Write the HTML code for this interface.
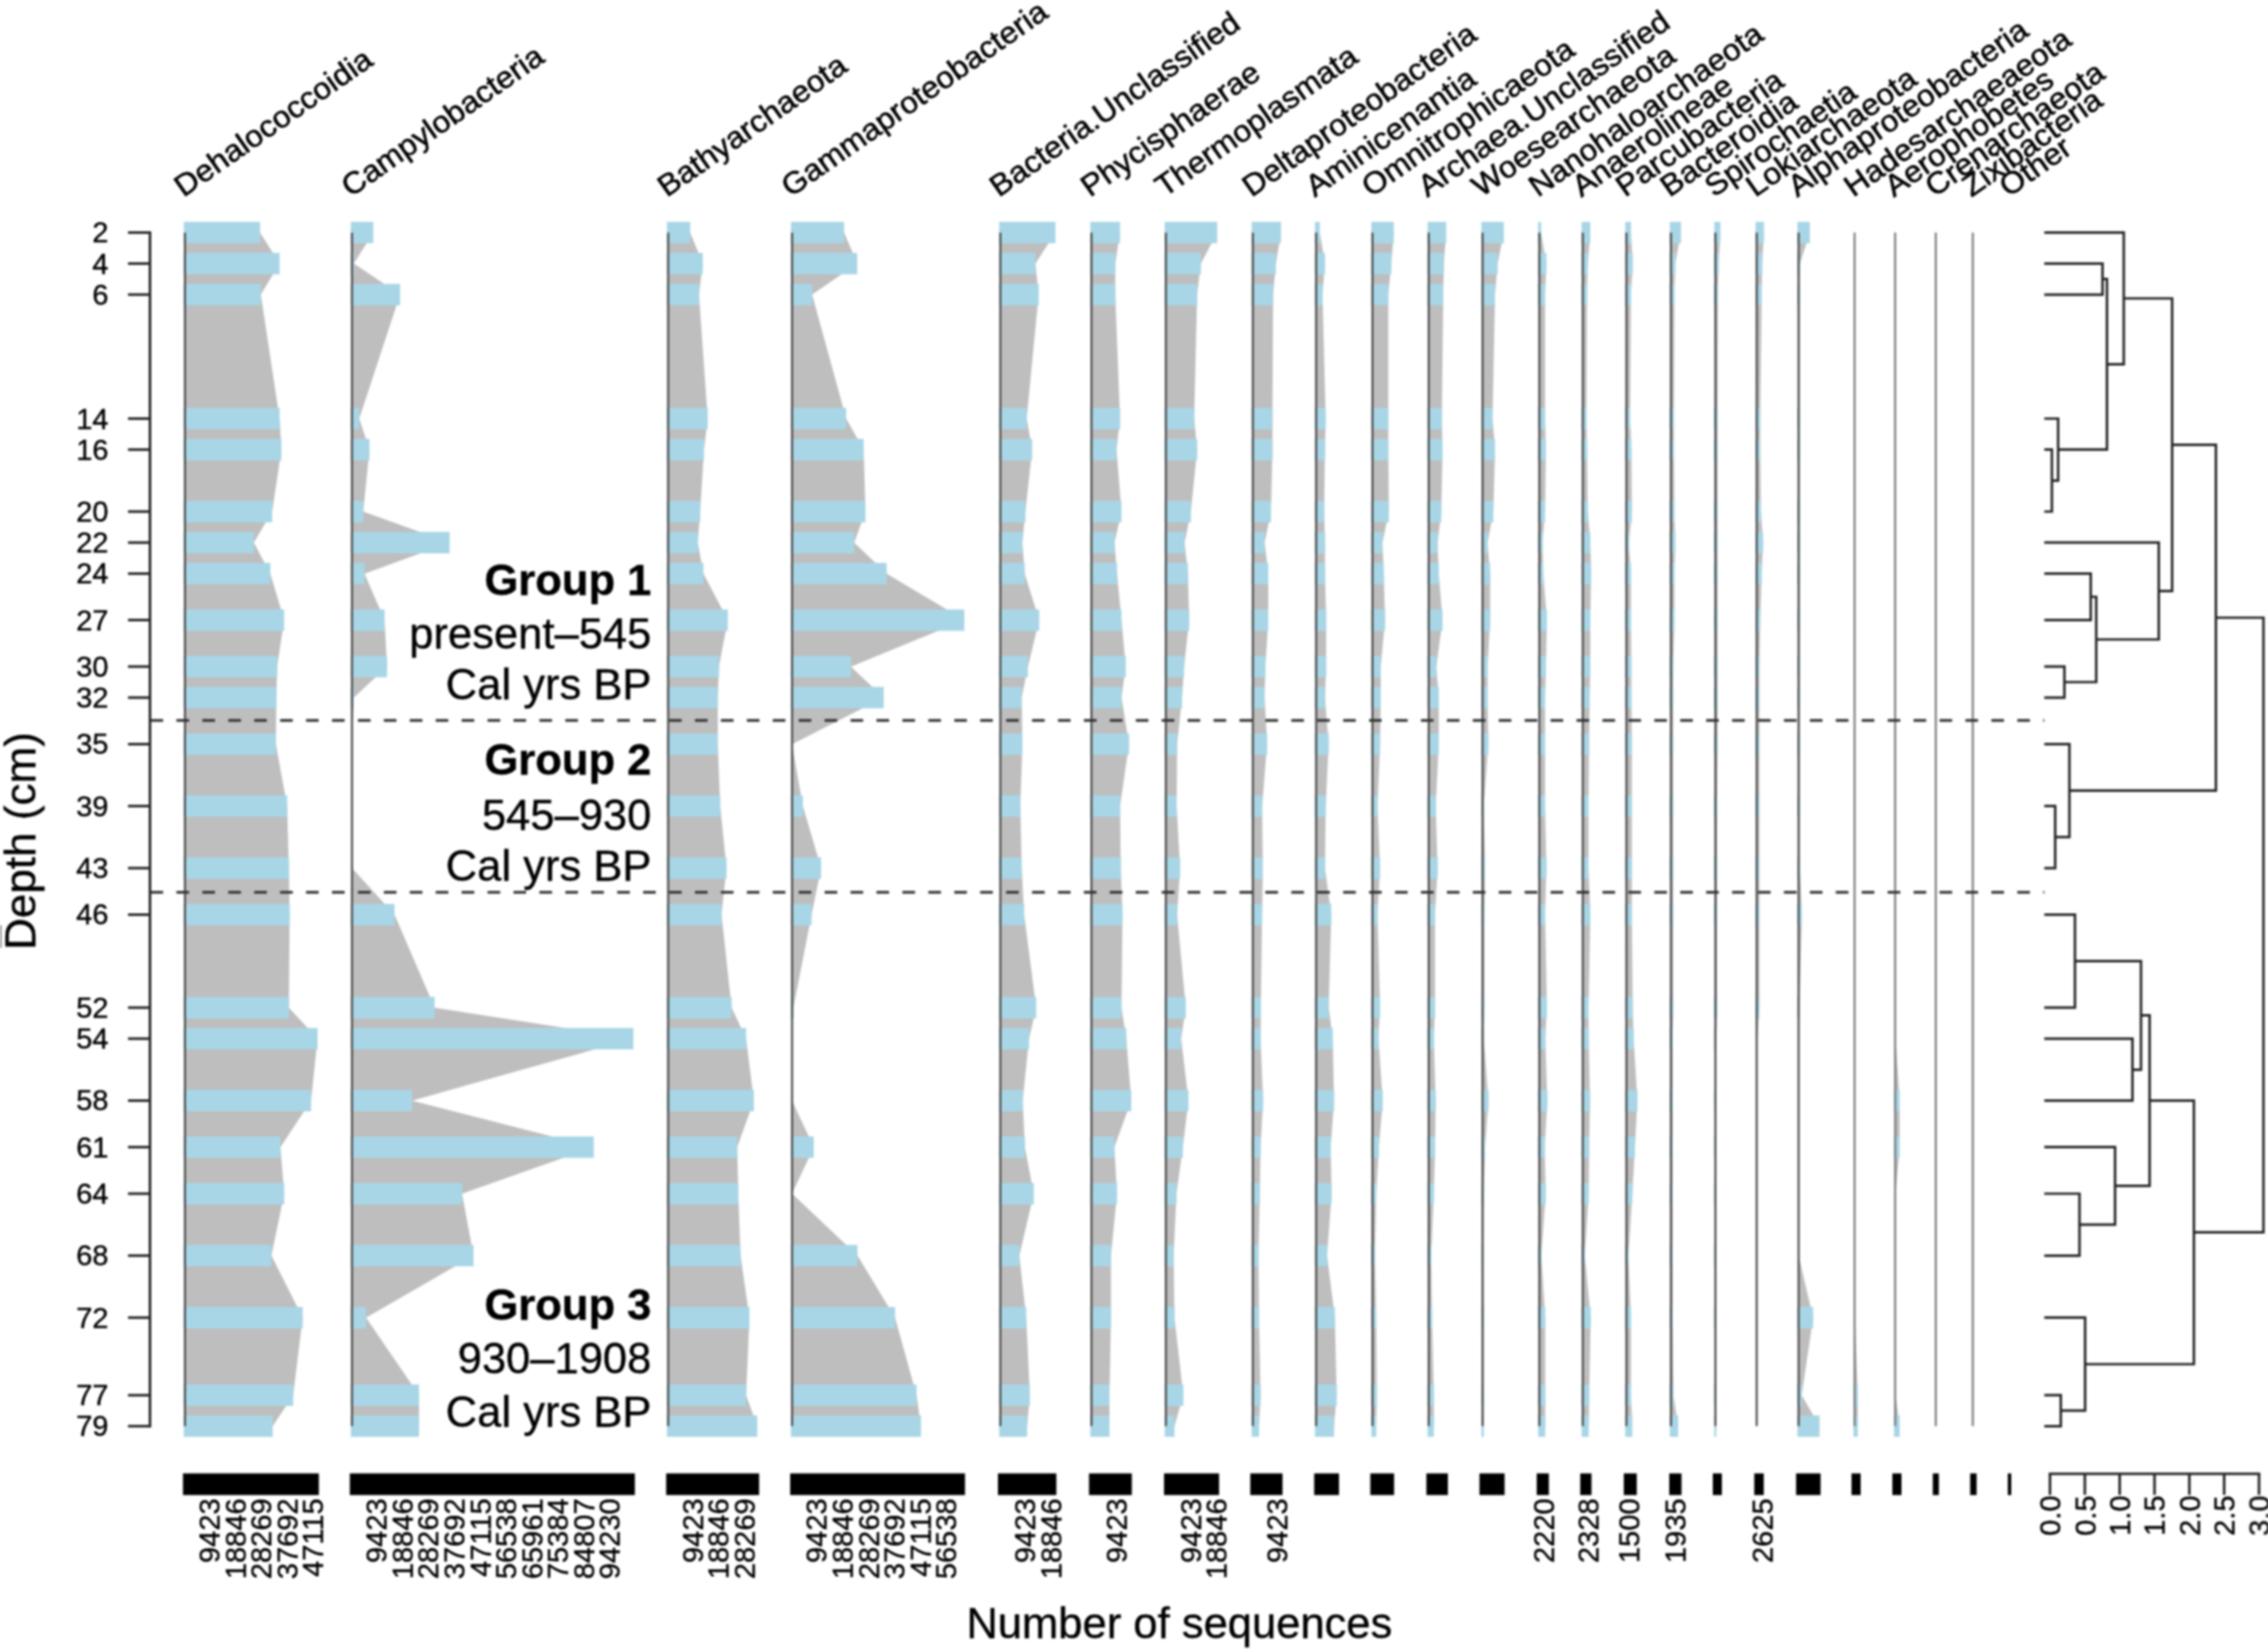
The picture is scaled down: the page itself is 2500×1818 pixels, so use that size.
<!DOCTYPE html>
<html lang="en"><head><meta charset="utf-8"><title>Stratigraphic diagram</title>
<style>html,body{margin:0;padding:0;background:#fff}body{width:2500px;height:1818px;overflow:hidden}svg{display:block}</style>
</head><body>
<svg width="2500" height="1818" viewBox="0 0 2500 1818" font-family='"Liberation Sans", sans-serif'>
<rect width="2500" height="1818" fill="#ffffff"/>
<defs><filter id="soft" x="0" y="0" width="100%" height="100%" filterUnits="objectBoundingBox" color-interpolation-filters="sRGB"><feGaussianBlur stdDeviation="1.0"/></filter></defs>
<g filter="url(#soft)">
<rect width="2500" height="1818" fill="#ffffff"/>
<g><polygon fill="#bebebe" points="203.9,256.4 286.7,256.4 308.2,290.6 287.5,324.8 308.2,461.5 310.2,495.7 300.0,564.0 279.8,598.2 298.0,632.4 313.2,683.6 305.5,734.9 304.6,769.1 304.1,820.4 316.5,888.7 318.4,957.1 319.3,1008.4 318.4,1110.9 350.0,1145.1 342.9,1213.4 309.1,1264.7 313.3,1316.0 299.2,1384.3 333.6,1452.7 323.2,1538.2 300.6,1572.3 203.9,1572.3"/><rect x="202.6" y="244.6" width="84.1" height="23.6" fill="#a8d6e6"/><rect x="202.6" y="278.8" width="105.6" height="23.6" fill="#a8d6e6"/><rect x="202.6" y="313.0" width="84.9" height="23.6" fill="#a8d6e6"/><rect x="202.6" y="449.7" width="105.6" height="23.6" fill="#a8d6e6"/><rect x="202.6" y="483.9" width="107.6" height="23.6" fill="#a8d6e6"/><rect x="202.6" y="552.2" width="97.4" height="23.6" fill="#a8d6e6"/><rect x="202.6" y="586.4" width="77.2" height="23.6" fill="#a8d6e6"/><rect x="202.6" y="620.6" width="95.4" height="23.6" fill="#a8d6e6"/><rect x="202.6" y="671.9" width="110.6" height="23.6" fill="#a8d6e6"/><rect x="202.6" y="723.1" width="102.9" height="23.6" fill="#a8d6e6"/><rect x="202.6" y="757.3" width="102.0" height="23.6" fill="#a8d6e6"/><rect x="202.6" y="808.6" width="101.5" height="23.6" fill="#a8d6e6"/><rect x="202.6" y="876.9" width="113.9" height="23.6" fill="#a8d6e6"/><rect x="202.6" y="945.3" width="115.8" height="23.6" fill="#a8d6e6"/><rect x="202.6" y="996.6" width="116.7" height="23.6" fill="#a8d6e6"/><rect x="202.6" y="1099.1" width="115.8" height="23.6" fill="#a8d6e6"/><rect x="202.6" y="1133.3" width="147.4" height="23.6" fill="#a8d6e6"/><rect x="202.6" y="1201.6" width="140.3" height="23.6" fill="#a8d6e6"/><rect x="202.6" y="1252.9" width="106.5" height="23.6" fill="#a8d6e6"/><rect x="202.6" y="1304.2" width="110.7" height="23.6" fill="#a8d6e6"/><rect x="202.6" y="1372.5" width="96.6" height="23.6" fill="#a8d6e6"/><rect x="202.6" y="1440.9" width="131.0" height="23.6" fill="#a8d6e6"/><rect x="202.6" y="1526.4" width="120.6" height="23.6" fill="#a8d6e6"/><rect x="202.6" y="1560.5" width="98.0" height="23.6" fill="#a8d6e6"/><line x1="203.9" y1="256.4" x2="203.9" y2="1572.3" stroke="#484848" stroke-width="2.2"/><rect x="201.7" y="1624.4" width="149.8" height="23.9" fill="#000"/><text transform="translate(242.3,1652) rotate(-90)" text-anchor="end" font-size="32" fill="#000" stroke="#000" stroke-width="0.4">9423</text><text transform="translate(270.8,1652) rotate(-90)" text-anchor="end" font-size="32" fill="#000" stroke="#000" stroke-width="0.4">18846</text><text transform="translate(299.3,1652) rotate(-90)" text-anchor="end" font-size="32" fill="#000" stroke="#000" stroke-width="0.4">28269</text><text transform="translate(327.9,1652) rotate(-90)" text-anchor="end" font-size="32" fill="#000" stroke="#000" stroke-width="0.4">37692</text><text transform="translate(356.4,1652) rotate(-90)" text-anchor="end" font-size="32" fill="#000" stroke="#000" stroke-width="0.4">47115</text><text transform="translate(202.3,218) rotate(-35) scale(1.047,1)" font-size="33.5" fill="#000" stroke="#000" stroke-width="0.6">Dehalococcoidia</text></g>
<g><polygon fill="#bebebe" points="388.0,256.4 411.5,256.4 390.0,290.6 441.0,324.8 396.0,461.5 407.3,495.7 400.4,564.0 495.6,598.2 401.8,632.4 423.9,683.6 426.6,734.9 390.0,769.1 388.0,820.4 388.0,888.7 388.0,957.1 434.9,1008.4 479.1,1110.9 698.2,1145.1 454.3,1213.4 654.5,1264.7 509.3,1316.0 522.0,1384.3 403.5,1452.7 461.9,1538.2 461.9,1572.3 388.0,1572.3"/><rect x="386.7" y="244.6" width="24.8" height="23.6" fill="#a8d6e6"/><rect x="386.7" y="278.8" width="3.3" height="23.6" fill="#a8d6e6"/><rect x="386.7" y="313.0" width="54.3" height="23.6" fill="#a8d6e6"/><rect x="386.7" y="449.7" width="9.3" height="23.6" fill="#a8d6e6"/><rect x="386.7" y="483.9" width="20.6" height="23.6" fill="#a8d6e6"/><rect x="386.7" y="552.2" width="13.7" height="23.6" fill="#a8d6e6"/><rect x="386.7" y="586.4" width="108.9" height="23.6" fill="#a8d6e6"/><rect x="386.7" y="620.6" width="15.1" height="23.6" fill="#a8d6e6"/><rect x="386.7" y="671.9" width="37.2" height="23.6" fill="#a8d6e6"/><rect x="386.7" y="723.1" width="39.9" height="23.6" fill="#a8d6e6"/><rect x="386.7" y="757.3" width="3.3" height="23.6" fill="#a8d6e6"/><rect x="386.7" y="996.6" width="48.2" height="23.6" fill="#a8d6e6"/><rect x="386.7" y="1099.1" width="92.4" height="23.6" fill="#a8d6e6"/><rect x="386.7" y="1133.3" width="311.5" height="23.6" fill="#a8d6e6"/><rect x="386.7" y="1201.6" width="67.6" height="23.6" fill="#a8d6e6"/><rect x="386.7" y="1252.9" width="267.8" height="23.6" fill="#a8d6e6"/><rect x="386.7" y="1304.2" width="122.6" height="23.6" fill="#a8d6e6"/><rect x="386.7" y="1372.5" width="135.3" height="23.6" fill="#a8d6e6"/><rect x="386.7" y="1440.9" width="16.8" height="23.6" fill="#a8d6e6"/><rect x="386.7" y="1526.4" width="75.2" height="23.6" fill="#a8d6e6"/><rect x="386.7" y="1560.5" width="75.2" height="23.6" fill="#a8d6e6"/><line x1="388.0" y1="256.4" x2="388.0" y2="1572.3" stroke="#484848" stroke-width="2.2"/><rect x="385.6" y="1624.4" width="314.2" height="23.9" fill="#000"/><text transform="translate(426.3,1652) rotate(-90)" text-anchor="end" font-size="32" fill="#000" stroke="#000" stroke-width="0.4">9423</text><text transform="translate(454.9,1652) rotate(-90)" text-anchor="end" font-size="32" fill="#000" stroke="#000" stroke-width="0.4">18846</text><text transform="translate(483.4,1652) rotate(-90)" text-anchor="end" font-size="32" fill="#000" stroke="#000" stroke-width="0.4">28269</text><text transform="translate(512.0,1652) rotate(-90)" text-anchor="end" font-size="32" fill="#000" stroke="#000" stroke-width="0.4">37692</text><text transform="translate(540.5,1652) rotate(-90)" text-anchor="end" font-size="32" fill="#000" stroke="#000" stroke-width="0.4">47115</text><text transform="translate(569.1,1652) rotate(-90)" text-anchor="end" font-size="32" fill="#000" stroke="#000" stroke-width="0.4">56538</text><text transform="translate(597.6,1652) rotate(-90)" text-anchor="end" font-size="32" fill="#000" stroke="#000" stroke-width="0.4">65961</text><text transform="translate(626.2,1652) rotate(-90)" text-anchor="end" font-size="32" fill="#000" stroke="#000" stroke-width="0.4">75384</text><text transform="translate(654.8,1652) rotate(-90)" text-anchor="end" font-size="32" fill="#000" stroke="#000" stroke-width="0.4">84807</text><text transform="translate(683.3,1652) rotate(-90)" text-anchor="end" font-size="32" fill="#000" stroke="#000" stroke-width="0.4">94230</text><text transform="translate(386.4,218) rotate(-35) scale(1.047,1)" font-size="33.5" fill="#000" stroke="#000" stroke-width="0.6">Campylobacteria</text></g>
<g><polygon fill="#bebebe" points="736.5,256.4 760.8,256.4 774.6,290.6 770.5,324.8 780.1,461.5 776.0,495.7 771.8,564.0 769.1,598.2 775.4,632.4 802.2,683.6 792.5,734.9 791.2,769.1 791.2,820.4 793.9,888.7 800.8,957.1 795.3,1008.4 806.5,1110.9 822.4,1145.1 831.0,1213.4 812.6,1264.7 813.8,1316.0 816.3,1384.3 826.1,1452.7 822.4,1538.2 834.7,1572.3 736.5,1572.3"/><rect x="735.2" y="244.6" width="25.6" height="23.6" fill="#a8d6e6"/><rect x="735.2" y="278.8" width="39.4" height="23.6" fill="#a8d6e6"/><rect x="735.2" y="313.0" width="35.3" height="23.6" fill="#a8d6e6"/><rect x="735.2" y="449.7" width="44.9" height="23.6" fill="#a8d6e6"/><rect x="735.2" y="483.9" width="40.8" height="23.6" fill="#a8d6e6"/><rect x="735.2" y="552.2" width="36.6" height="23.6" fill="#a8d6e6"/><rect x="735.2" y="586.4" width="33.9" height="23.6" fill="#a8d6e6"/><rect x="735.2" y="620.6" width="40.2" height="23.6" fill="#a8d6e6"/><rect x="735.2" y="671.9" width="67.0" height="23.6" fill="#a8d6e6"/><rect x="735.2" y="723.1" width="57.3" height="23.6" fill="#a8d6e6"/><rect x="735.2" y="757.3" width="56.0" height="23.6" fill="#a8d6e6"/><rect x="735.2" y="808.6" width="56.0" height="23.6" fill="#a8d6e6"/><rect x="735.2" y="876.9" width="58.7" height="23.6" fill="#a8d6e6"/><rect x="735.2" y="945.3" width="65.6" height="23.6" fill="#a8d6e6"/><rect x="735.2" y="996.6" width="60.1" height="23.6" fill="#a8d6e6"/><rect x="735.2" y="1099.1" width="71.3" height="23.6" fill="#a8d6e6"/><rect x="735.2" y="1133.3" width="87.2" height="23.6" fill="#a8d6e6"/><rect x="735.2" y="1201.6" width="95.8" height="23.6" fill="#a8d6e6"/><rect x="735.2" y="1252.9" width="77.4" height="23.6" fill="#a8d6e6"/><rect x="735.2" y="1304.2" width="78.6" height="23.6" fill="#a8d6e6"/><rect x="735.2" y="1372.5" width="81.1" height="23.6" fill="#a8d6e6"/><rect x="735.2" y="1440.9" width="90.9" height="23.6" fill="#a8d6e6"/><rect x="735.2" y="1526.4" width="87.2" height="23.6" fill="#a8d6e6"/><rect x="735.2" y="1560.5" width="99.5" height="23.6" fill="#a8d6e6"/><line x1="736.5" y1="256.4" x2="736.5" y2="1572.3" stroke="#484848" stroke-width="2.2"/><rect x="734.3" y="1624.4" width="102.5" height="23.9" fill="#000"/><text transform="translate(774.8,1652) rotate(-90)" text-anchor="end" font-size="32" fill="#000" stroke="#000" stroke-width="0.4">9423</text><text transform="translate(803.4,1652) rotate(-90)" text-anchor="end" font-size="32" fill="#000" stroke="#000" stroke-width="0.4">18846</text><text transform="translate(831.9,1652) rotate(-90)" text-anchor="end" font-size="32" fill="#000" stroke="#000" stroke-width="0.4">28269</text><text transform="translate(734.9,218) rotate(-35) scale(1.047,1)" font-size="33.5" fill="#000" stroke="#000" stroke-width="0.6">Bathyarchaeota</text></g>
<g><polygon fill="#bebebe" points="873.1,256.4 930.5,256.4 944.9,290.6 895.2,324.8 932.7,461.5 952.0,495.7 954.0,564.0 941.6,598.2 977.4,632.4 1063.0,683.6 938.0,734.9 974.1,769.1 873.1,820.4 885.0,888.7 905.1,957.1 894.6,1008.4 874.6,1110.9 873.1,1145.1 873.1,1213.4 897.0,1264.7 873.1,1316.0 945.2,1384.3 986.6,1452.7 1010.3,1538.2 1015.2,1572.3 873.1,1572.3"/><rect x="871.8" y="244.6" width="58.7" height="23.6" fill="#a8d6e6"/><rect x="871.8" y="278.8" width="73.1" height="23.6" fill="#a8d6e6"/><rect x="871.8" y="313.0" width="23.4" height="23.6" fill="#a8d6e6"/><rect x="871.8" y="449.7" width="60.9" height="23.6" fill="#a8d6e6"/><rect x="871.8" y="483.9" width="80.2" height="23.6" fill="#a8d6e6"/><rect x="871.8" y="552.2" width="82.2" height="23.6" fill="#a8d6e6"/><rect x="871.8" y="586.4" width="69.8" height="23.6" fill="#a8d6e6"/><rect x="871.8" y="620.6" width="105.6" height="23.6" fill="#a8d6e6"/><rect x="871.8" y="671.9" width="191.2" height="23.6" fill="#a8d6e6"/><rect x="871.8" y="723.1" width="66.2" height="23.6" fill="#a8d6e6"/><rect x="871.8" y="757.3" width="102.3" height="23.6" fill="#a8d6e6"/><rect x="871.8" y="876.9" width="13.2" height="23.6" fill="#a8d6e6"/><rect x="871.8" y="945.3" width="33.3" height="23.6" fill="#a8d6e6"/><rect x="871.8" y="996.6" width="22.8" height="23.6" fill="#a8d6e6"/><rect x="871.8" y="1099.1" width="2.8" height="23.6" fill="#a8d6e6"/><rect x="871.8" y="1252.9" width="25.2" height="23.6" fill="#a8d6e6"/><rect x="871.8" y="1372.5" width="73.4" height="23.6" fill="#a8d6e6"/><rect x="871.8" y="1440.9" width="114.8" height="23.6" fill="#a8d6e6"/><rect x="871.8" y="1526.4" width="138.5" height="23.6" fill="#a8d6e6"/><rect x="871.8" y="1560.5" width="143.4" height="23.6" fill="#a8d6e6"/><line x1="873.1" y1="256.4" x2="873.1" y2="1572.3" stroke="#484848" stroke-width="2.2"/><rect x="871.0" y="1624.4" width="192.7" height="23.9" fill="#000"/><text transform="translate(911.4,1652) rotate(-90)" text-anchor="end" font-size="32" fill="#000" stroke="#000" stroke-width="0.4">9423</text><text transform="translate(940.0,1652) rotate(-90)" text-anchor="end" font-size="32" fill="#000" stroke="#000" stroke-width="0.4">18846</text><text transform="translate(968.5,1652) rotate(-90)" text-anchor="end" font-size="32" fill="#000" stroke="#000" stroke-width="0.4">28269</text><text transform="translate(997.1,1652) rotate(-90)" text-anchor="end" font-size="32" fill="#000" stroke="#000" stroke-width="0.4">37692</text><text transform="translate(1025.7,1652) rotate(-90)" text-anchor="end" font-size="32" fill="#000" stroke="#000" stroke-width="0.4">47115</text><text transform="translate(1054.2,1652) rotate(-90)" text-anchor="end" font-size="32" fill="#000" stroke="#000" stroke-width="0.4">56538</text><text transform="translate(871.5,218) rotate(-35) scale(1.047,1)" font-size="33.5" fill="#000" stroke="#000" stroke-width="0.6">Gammaproteobacteria</text></g>
<g><polygon fill="#bebebe" points="1102.7,256.4 1163.4,256.4 1141.3,290.6 1144.9,324.8 1131.7,461.5 1137.7,495.7 1130.3,564.0 1127.0,598.2 1129.5,632.4 1145.5,683.6 1133.1,734.9 1126.2,769.1 1127.0,820.4 1124.7,888.7 1126.2,957.1 1128.9,1008.4 1142.2,1110.9 1134.3,1145.1 1127.3,1213.4 1129.7,1264.7 1139.5,1316.0 1123.6,1384.3 1131.2,1452.7 1135.2,1538.2 1132.2,1572.3 1102.7,1572.3"/><rect x="1101.4" y="244.6" width="62.0" height="23.6" fill="#a8d6e6"/><rect x="1101.4" y="278.8" width="39.9" height="23.6" fill="#a8d6e6"/><rect x="1101.4" y="313.0" width="43.5" height="23.6" fill="#a8d6e6"/><rect x="1101.4" y="449.7" width="30.3" height="23.6" fill="#a8d6e6"/><rect x="1101.4" y="483.9" width="36.3" height="23.6" fill="#a8d6e6"/><rect x="1101.4" y="552.2" width="28.9" height="23.6" fill="#a8d6e6"/><rect x="1101.4" y="586.4" width="25.6" height="23.6" fill="#a8d6e6"/><rect x="1101.4" y="620.6" width="28.1" height="23.6" fill="#a8d6e6"/><rect x="1101.4" y="671.9" width="44.1" height="23.6" fill="#a8d6e6"/><rect x="1101.4" y="723.1" width="31.7" height="23.6" fill="#a8d6e6"/><rect x="1101.4" y="757.3" width="24.8" height="23.6" fill="#a8d6e6"/><rect x="1101.4" y="808.6" width="25.6" height="23.6" fill="#a8d6e6"/><rect x="1101.4" y="876.9" width="23.3" height="23.6" fill="#a8d6e6"/><rect x="1101.4" y="945.3" width="24.8" height="23.6" fill="#a8d6e6"/><rect x="1101.4" y="996.6" width="27.5" height="23.6" fill="#a8d6e6"/><rect x="1101.4" y="1099.1" width="40.8" height="23.6" fill="#a8d6e6"/><rect x="1101.4" y="1133.3" width="32.9" height="23.6" fill="#a8d6e6"/><rect x="1101.4" y="1201.6" width="25.9" height="23.6" fill="#a8d6e6"/><rect x="1101.4" y="1252.9" width="28.3" height="23.6" fill="#a8d6e6"/><rect x="1101.4" y="1304.2" width="38.1" height="23.6" fill="#a8d6e6"/><rect x="1101.4" y="1372.5" width="22.2" height="23.6" fill="#a8d6e6"/><rect x="1101.4" y="1440.9" width="29.8" height="23.6" fill="#a8d6e6"/><rect x="1101.4" y="1526.4" width="33.8" height="23.6" fill="#a8d6e6"/><rect x="1101.4" y="1560.5" width="30.8" height="23.6" fill="#a8d6e6"/><line x1="1102.7" y1="256.4" x2="1102.7" y2="1572.3" stroke="#484848" stroke-width="2.2"/><rect x="1100.0" y="1624.4" width="64.4" height="23.9" fill="#000"/><text transform="translate(1141.0,1652) rotate(-90)" text-anchor="end" font-size="32" fill="#000" stroke="#000" stroke-width="0.4">9423</text><text transform="translate(1169.6,1652) rotate(-90)" text-anchor="end" font-size="32" fill="#000" stroke="#000" stroke-width="0.4">18846</text><text transform="translate(1101.1,218) rotate(-35) scale(1.047,1)" font-size="33.5" fill="#000" stroke="#000" stroke-width="0.6">Bacteria.Unclassified</text></g>
<g><polygon fill="#bebebe" points="1203.1,256.4 1234.6,256.4 1229.3,290.6 1229.3,324.8 1234.6,461.5 1230.7,495.7 1236.2,564.0 1228.5,598.2 1231.3,632.4 1236.2,683.6 1240.9,734.9 1236.2,769.1 1244.5,820.4 1234.6,888.7 1235.4,957.1 1237.3,1008.4 1236.2,1110.9 1241.5,1145.1 1247.0,1213.4 1228.3,1264.7 1231.3,1316.0 1224.6,1384.3 1224.6,1452.7 1223.0,1538.2 1223.0,1572.3 1203.1,1572.3"/><rect x="1201.8" y="244.6" width="32.8" height="23.6" fill="#a8d6e6"/><rect x="1201.8" y="278.8" width="27.5" height="23.6" fill="#a8d6e6"/><rect x="1201.8" y="313.0" width="27.5" height="23.6" fill="#a8d6e6"/><rect x="1201.8" y="449.7" width="32.8" height="23.6" fill="#a8d6e6"/><rect x="1201.8" y="483.9" width="28.9" height="23.6" fill="#a8d6e6"/><rect x="1201.8" y="552.2" width="34.4" height="23.6" fill="#a8d6e6"/><rect x="1201.8" y="586.4" width="26.7" height="23.6" fill="#a8d6e6"/><rect x="1201.8" y="620.6" width="29.5" height="23.6" fill="#a8d6e6"/><rect x="1201.8" y="671.9" width="34.4" height="23.6" fill="#a8d6e6"/><rect x="1201.8" y="723.1" width="39.1" height="23.6" fill="#a8d6e6"/><rect x="1201.8" y="757.3" width="34.4" height="23.6" fill="#a8d6e6"/><rect x="1201.8" y="808.6" width="42.7" height="23.6" fill="#a8d6e6"/><rect x="1201.8" y="876.9" width="32.8" height="23.6" fill="#a8d6e6"/><rect x="1201.8" y="945.3" width="33.6" height="23.6" fill="#a8d6e6"/><rect x="1201.8" y="996.6" width="35.5" height="23.6" fill="#a8d6e6"/><rect x="1201.8" y="1099.1" width="34.4" height="23.6" fill="#a8d6e6"/><rect x="1201.8" y="1133.3" width="39.7" height="23.6" fill="#a8d6e6"/><rect x="1201.8" y="1201.6" width="45.2" height="23.6" fill="#a8d6e6"/><rect x="1201.8" y="1252.9" width="26.5" height="23.6" fill="#a8d6e6"/><rect x="1201.8" y="1304.2" width="29.5" height="23.6" fill="#a8d6e6"/><rect x="1201.8" y="1372.5" width="22.8" height="23.6" fill="#a8d6e6"/><rect x="1201.8" y="1440.9" width="22.8" height="23.6" fill="#a8d6e6"/><rect x="1201.8" y="1526.4" width="21.2" height="23.6" fill="#a8d6e6"/><rect x="1201.8" y="1560.5" width="21.2" height="23.6" fill="#a8d6e6"/><line x1="1203.1" y1="256.4" x2="1203.1" y2="1572.3" stroke="#484848" stroke-width="2.2"/><rect x="1200.4" y="1624.4" width="47.2" height="23.9" fill="#000"/><text transform="translate(1241.5,1652) rotate(-90)" text-anchor="end" font-size="32" fill="#000" stroke="#000" stroke-width="0.4">9423</text><text transform="translate(1201.5,218) rotate(-35) scale(1.047,1)" font-size="33.5" fill="#000" stroke="#000" stroke-width="0.6">Phycisphaerae</text></g>
<g><polygon fill="#bebebe" points="1285.1,256.4 1341.7,256.4 1323.7,290.6 1319.6,324.8 1316.3,461.5 1319.6,495.7 1312.7,564.0 1305.8,598.2 1309.4,632.4 1310.8,683.6 1305.2,734.9 1303.0,769.1 1297.5,820.4 1297.0,888.7 1300.8,957.1 1297.5,1008.4 1307.1,1110.9 1302.0,1145.1 1310.0,1213.4 1303.8,1264.7 1296.8,1316.0 1293.7,1384.3 1294.6,1452.7 1304.4,1538.2 1294.6,1572.3 1285.1,1572.3"/><rect x="1283.8" y="244.6" width="57.9" height="23.6" fill="#a8d6e6"/><rect x="1283.8" y="278.8" width="39.9" height="23.6" fill="#a8d6e6"/><rect x="1283.8" y="313.0" width="35.8" height="23.6" fill="#a8d6e6"/><rect x="1283.8" y="449.7" width="32.5" height="23.6" fill="#a8d6e6"/><rect x="1283.8" y="483.9" width="35.8" height="23.6" fill="#a8d6e6"/><rect x="1283.8" y="552.2" width="28.9" height="23.6" fill="#a8d6e6"/><rect x="1283.8" y="586.4" width="22.0" height="23.6" fill="#a8d6e6"/><rect x="1283.8" y="620.6" width="25.6" height="23.6" fill="#a8d6e6"/><rect x="1283.8" y="671.9" width="27.0" height="23.6" fill="#a8d6e6"/><rect x="1283.8" y="723.1" width="21.4" height="23.6" fill="#a8d6e6"/><rect x="1283.8" y="757.3" width="19.2" height="23.6" fill="#a8d6e6"/><rect x="1283.8" y="808.6" width="13.7" height="23.6" fill="#a8d6e6"/><rect x="1283.8" y="876.9" width="13.2" height="23.6" fill="#a8d6e6"/><rect x="1283.8" y="945.3" width="17.0" height="23.6" fill="#a8d6e6"/><rect x="1283.8" y="996.6" width="13.7" height="23.6" fill="#a8d6e6"/><rect x="1283.8" y="1099.1" width="23.3" height="23.6" fill="#a8d6e6"/><rect x="1283.8" y="1133.3" width="18.2" height="23.6" fill="#a8d6e6"/><rect x="1283.8" y="1201.6" width="26.2" height="23.6" fill="#a8d6e6"/><rect x="1283.8" y="1252.9" width="20.0" height="23.6" fill="#a8d6e6"/><rect x="1283.8" y="1304.2" width="13.0" height="23.6" fill="#a8d6e6"/><rect x="1283.8" y="1372.5" width="9.9" height="23.6" fill="#a8d6e6"/><rect x="1283.8" y="1440.9" width="10.8" height="23.6" fill="#a8d6e6"/><rect x="1283.8" y="1526.4" width="20.6" height="23.6" fill="#a8d6e6"/><rect x="1283.8" y="1560.5" width="10.8" height="23.6" fill="#a8d6e6"/><line x1="1285.1" y1="256.4" x2="1285.1" y2="1572.3" stroke="#484848" stroke-width="2.2"/><rect x="1283.1" y="1624.4" width="60.7" height="23.9" fill="#000"/><text transform="translate(1323.5,1652) rotate(-90)" text-anchor="end" font-size="32" fill="#000" stroke="#000" stroke-width="0.4">9423</text><text transform="translate(1352.0,1652) rotate(-90)" text-anchor="end" font-size="32" fill="#000" stroke="#000" stroke-width="0.4">18846</text><text transform="translate(1283.5,218) rotate(-35) scale(1.047,1)" font-size="33.5" fill="#000" stroke="#000" stroke-width="0.6">Thermoplasmata</text></g>
<g><polygon fill="#bebebe" points="1381.0,256.4 1412.0,256.4 1406.4,290.6 1403.3,324.8 1402.6,461.5 1402.6,495.7 1401.0,564.0 1394.0,598.2 1398.0,632.4 1398.0,683.6 1394.8,734.9 1394.0,769.1 1396.7,820.4 1391.2,888.7 1392.0,957.1 1391.2,1008.4 1389.8,1110.9 1389.5,1145.1 1392.3,1213.4 1389.5,1264.7 1388.6,1316.0 1387.2,1384.3 1387.8,1452.7 1389.5,1538.2 1387.8,1572.3 1381.0,1572.3"/><rect x="1379.7" y="244.6" width="32.3" height="23.6" fill="#a8d6e6"/><rect x="1379.7" y="278.8" width="26.7" height="23.6" fill="#a8d6e6"/><rect x="1379.7" y="313.0" width="23.6" height="23.6" fill="#a8d6e6"/><rect x="1379.7" y="449.7" width="22.9" height="23.6" fill="#a8d6e6"/><rect x="1379.7" y="483.9" width="22.9" height="23.6" fill="#a8d6e6"/><rect x="1379.7" y="552.2" width="21.3" height="23.6" fill="#a8d6e6"/><rect x="1379.7" y="586.4" width="14.3" height="23.6" fill="#a8d6e6"/><rect x="1379.7" y="620.6" width="18.3" height="23.6" fill="#a8d6e6"/><rect x="1379.7" y="671.9" width="18.3" height="23.6" fill="#a8d6e6"/><rect x="1379.7" y="723.1" width="15.1" height="23.6" fill="#a8d6e6"/><rect x="1379.7" y="757.3" width="14.3" height="23.6" fill="#a8d6e6"/><rect x="1379.7" y="808.6" width="17.0" height="23.6" fill="#a8d6e6"/><rect x="1379.7" y="876.9" width="11.5" height="23.6" fill="#a8d6e6"/><rect x="1379.7" y="945.3" width="12.3" height="23.6" fill="#a8d6e6"/><rect x="1379.7" y="996.6" width="11.5" height="23.6" fill="#a8d6e6"/><rect x="1379.7" y="1099.1" width="10.1" height="23.6" fill="#a8d6e6"/><rect x="1379.7" y="1133.3" width="9.8" height="23.6" fill="#a8d6e6"/><rect x="1379.7" y="1201.6" width="12.6" height="23.6" fill="#a8d6e6"/><rect x="1379.7" y="1252.9" width="9.8" height="23.6" fill="#a8d6e6"/><rect x="1379.7" y="1304.2" width="8.9" height="23.6" fill="#a8d6e6"/><rect x="1379.7" y="1372.5" width="7.5" height="23.6" fill="#a8d6e6"/><rect x="1379.7" y="1440.9" width="8.1" height="23.6" fill="#a8d6e6"/><rect x="1379.7" y="1526.4" width="9.8" height="23.6" fill="#a8d6e6"/><rect x="1379.7" y="1560.5" width="8.1" height="23.6" fill="#a8d6e6"/><line x1="1381.0" y1="256.4" x2="1381.0" y2="1572.3" stroke="#484848" stroke-width="2.2"/><rect x="1378.2" y="1624.4" width="35.5" height="23.9" fill="#000"/><text transform="translate(1419.4,1652) rotate(-90)" text-anchor="end" font-size="32" fill="#000" stroke="#000" stroke-width="0.4">9423</text><text transform="translate(1379.4,218) rotate(-35) scale(1.047,1)" font-size="33.5" fill="#000" stroke="#000" stroke-width="0.6">Deltaproteobacteria</text></g>
<g><polygon fill="#bebebe" points="1450.8,256.4 1454.8,256.4 1460.5,290.6 1457.8,324.8 1461.3,461.5 1460.5,495.7 1459.6,564.0 1460.5,598.2 1460.5,632.4 1461.8,683.6 1461.8,734.9 1460.5,769.1 1464.6,820.4 1461.3,888.7 1460.5,957.1 1467.4,1008.4 1464.6,1110.9 1469.1,1145.1 1470.5,1213.4 1466.8,1264.7 1467.8,1316.0 1462.8,1384.3 1471.4,1452.7 1473.4,1538.2 1470.5,1572.3 1450.8,1572.3"/><rect x="1449.5" y="244.6" width="5.3" height="23.6" fill="#a8d6e6"/><rect x="1449.5" y="278.8" width="11.0" height="23.6" fill="#a8d6e6"/><rect x="1449.5" y="313.0" width="8.3" height="23.6" fill="#a8d6e6"/><rect x="1449.5" y="449.7" width="11.8" height="23.6" fill="#a8d6e6"/><rect x="1449.5" y="483.9" width="11.0" height="23.6" fill="#a8d6e6"/><rect x="1449.5" y="552.2" width="10.1" height="23.6" fill="#a8d6e6"/><rect x="1449.5" y="586.4" width="11.0" height="23.6" fill="#a8d6e6"/><rect x="1449.5" y="620.6" width="11.0" height="23.6" fill="#a8d6e6"/><rect x="1449.5" y="671.9" width="12.3" height="23.6" fill="#a8d6e6"/><rect x="1449.5" y="723.1" width="12.3" height="23.6" fill="#a8d6e6"/><rect x="1449.5" y="757.3" width="11.0" height="23.6" fill="#a8d6e6"/><rect x="1449.5" y="808.6" width="15.1" height="23.6" fill="#a8d6e6"/><rect x="1449.5" y="876.9" width="11.8" height="23.6" fill="#a8d6e6"/><rect x="1449.5" y="945.3" width="11.0" height="23.6" fill="#a8d6e6"/><rect x="1449.5" y="996.6" width="17.9" height="23.6" fill="#a8d6e6"/><rect x="1449.5" y="1099.1" width="15.1" height="23.6" fill="#a8d6e6"/><rect x="1449.5" y="1133.3" width="19.6" height="23.6" fill="#a8d6e6"/><rect x="1449.5" y="1201.6" width="21.0" height="23.6" fill="#a8d6e6"/><rect x="1449.5" y="1252.9" width="17.3" height="23.6" fill="#a8d6e6"/><rect x="1449.5" y="1304.2" width="18.3" height="23.6" fill="#a8d6e6"/><rect x="1449.5" y="1372.5" width="13.3" height="23.6" fill="#a8d6e6"/><rect x="1449.5" y="1440.9" width="21.9" height="23.6" fill="#a8d6e6"/><rect x="1449.5" y="1526.4" width="23.9" height="23.6" fill="#a8d6e6"/><rect x="1449.5" y="1560.5" width="21.0" height="23.6" fill="#a8d6e6"/><line x1="1450.8" y1="256.4" x2="1450.8" y2="1572.3" stroke="#484848" stroke-width="2.2"/><rect x="1448.6" y="1624.4" width="27.4" height="23.9" fill="#000"/><text transform="translate(1449.2,218) rotate(-35) scale(1.047,1)" font-size="33.5" fill="#000" stroke="#000" stroke-width="0.6">Aminicenantia</text></g>
<g><polygon fill="#bebebe" points="1512.9,256.4 1536.4,256.4 1533.6,290.6 1530.3,324.8 1530.3,461.5 1530.3,495.7 1530.9,564.0 1523.9,598.2 1525.3,632.4 1526.7,683.6 1522.0,734.9 1522.0,769.1 1521.2,820.4 1518.4,888.7 1521.2,957.1 1518.4,1008.4 1521.2,1110.9 1519.4,1145.1 1524.2,1213.4 1519.9,1264.7 1517.1,1316.0 1515.7,1384.3 1517.1,1452.7 1517.7,1538.2 1517.1,1572.3 1512.9,1572.3"/><rect x="1511.6" y="244.6" width="24.8" height="23.6" fill="#a8d6e6"/><rect x="1511.6" y="278.8" width="22.0" height="23.6" fill="#a8d6e6"/><rect x="1511.6" y="313.0" width="18.7" height="23.6" fill="#a8d6e6"/><rect x="1511.6" y="449.7" width="18.7" height="23.6" fill="#a8d6e6"/><rect x="1511.6" y="483.9" width="18.7" height="23.6" fill="#a8d6e6"/><rect x="1511.6" y="552.2" width="19.3" height="23.6" fill="#a8d6e6"/><rect x="1511.6" y="586.4" width="12.3" height="23.6" fill="#a8d6e6"/><rect x="1511.6" y="620.6" width="13.7" height="23.6" fill="#a8d6e6"/><rect x="1511.6" y="671.9" width="15.1" height="23.6" fill="#a8d6e6"/><rect x="1511.6" y="723.1" width="10.4" height="23.6" fill="#a8d6e6"/><rect x="1511.6" y="757.3" width="10.4" height="23.6" fill="#a8d6e6"/><rect x="1511.6" y="808.6" width="9.6" height="23.6" fill="#a8d6e6"/><rect x="1511.6" y="876.9" width="6.8" height="23.6" fill="#a8d6e6"/><rect x="1511.6" y="945.3" width="9.6" height="23.6" fill="#a8d6e6"/><rect x="1511.6" y="996.6" width="6.8" height="23.6" fill="#a8d6e6"/><rect x="1511.6" y="1099.1" width="9.6" height="23.6" fill="#a8d6e6"/><rect x="1511.6" y="1133.3" width="7.8" height="23.6" fill="#a8d6e6"/><rect x="1511.6" y="1201.6" width="12.6" height="23.6" fill="#a8d6e6"/><rect x="1511.6" y="1252.9" width="8.3" height="23.6" fill="#a8d6e6"/><rect x="1511.6" y="1304.2" width="5.5" height="23.6" fill="#a8d6e6"/><rect x="1511.6" y="1372.5" width="4.1" height="23.6" fill="#a8d6e6"/><rect x="1511.6" y="1440.9" width="5.5" height="23.6" fill="#a8d6e6"/><rect x="1511.6" y="1526.4" width="6.1" height="23.6" fill="#a8d6e6"/><rect x="1511.6" y="1560.5" width="5.5" height="23.6" fill="#a8d6e6"/><line x1="1512.9" y1="256.4" x2="1512.9" y2="1572.3" stroke="#484848" stroke-width="2.2"/><rect x="1510.5" y="1624.4" width="26.2" height="23.9" fill="#000"/><text transform="translate(1511.3,218) rotate(-35) scale(1.047,1)" font-size="33.5" fill="#000" stroke="#000" stroke-width="0.6">Omnitrophicaeota</text></g>
<g><polygon fill="#bebebe" points="1574.9,256.4 1594.2,256.4 1591.5,290.6 1590.9,324.8 1589.3,461.5 1590.1,495.7 1588.7,564.0 1584.6,598.2 1585.9,632.4 1590.1,683.6 1583.2,734.9 1585.9,769.1 1585.9,820.4 1582.6,888.7 1584.6,957.1 1581.8,1008.4 1581.8,1110.9 1580.5,1145.1 1582.5,1213.4 1581.9,1264.7 1580.5,1316.0 1577.7,1384.3 1578.6,1452.7 1580.5,1538.2 1580.5,1572.3 1574.9,1572.3"/><rect x="1573.6" y="244.6" width="20.6" height="23.6" fill="#a8d6e6"/><rect x="1573.6" y="278.8" width="17.9" height="23.6" fill="#a8d6e6"/><rect x="1573.6" y="313.0" width="17.3" height="23.6" fill="#a8d6e6"/><rect x="1573.6" y="449.7" width="15.7" height="23.6" fill="#a8d6e6"/><rect x="1573.6" y="483.9" width="16.5" height="23.6" fill="#a8d6e6"/><rect x="1573.6" y="552.2" width="15.1" height="23.6" fill="#a8d6e6"/><rect x="1573.6" y="586.4" width="11.0" height="23.6" fill="#a8d6e6"/><rect x="1573.6" y="620.6" width="12.3" height="23.6" fill="#a8d6e6"/><rect x="1573.6" y="671.9" width="16.5" height="23.6" fill="#a8d6e6"/><rect x="1573.6" y="723.1" width="9.6" height="23.6" fill="#a8d6e6"/><rect x="1573.6" y="757.3" width="12.3" height="23.6" fill="#a8d6e6"/><rect x="1573.6" y="808.6" width="12.3" height="23.6" fill="#a8d6e6"/><rect x="1573.6" y="876.9" width="9.0" height="23.6" fill="#a8d6e6"/><rect x="1573.6" y="945.3" width="11.0" height="23.6" fill="#a8d6e6"/><rect x="1573.6" y="996.6" width="8.2" height="23.6" fill="#a8d6e6"/><rect x="1573.6" y="1099.1" width="8.2" height="23.6" fill="#a8d6e6"/><rect x="1573.6" y="1133.3" width="6.9" height="23.6" fill="#a8d6e6"/><rect x="1573.6" y="1201.6" width="8.9" height="23.6" fill="#a8d6e6"/><rect x="1573.6" y="1252.9" width="8.3" height="23.6" fill="#a8d6e6"/><rect x="1573.6" y="1304.2" width="6.9" height="23.6" fill="#a8d6e6"/><rect x="1573.6" y="1372.5" width="4.1" height="23.6" fill="#a8d6e6"/><rect x="1573.6" y="1440.9" width="5.0" height="23.6" fill="#a8d6e6"/><rect x="1573.6" y="1526.4" width="6.9" height="23.6" fill="#a8d6e6"/><rect x="1573.6" y="1560.5" width="6.9" height="23.6" fill="#a8d6e6"/><line x1="1574.9" y1="256.4" x2="1574.9" y2="1572.3" stroke="#484848" stroke-width="2.2"/><rect x="1572.3" y="1624.4" width="23.7" height="23.9" fill="#000"/><text transform="translate(1573.3,218) rotate(-35) scale(1.047,1)" font-size="33.5" fill="#000" stroke="#000" stroke-width="0.6">Archaea.Unclassified</text></g>
<g><polygon fill="#bebebe" points="1634.2,256.4 1657.7,256.4 1650.8,290.6 1648.0,324.8 1645.2,461.5 1648.0,495.7 1646.1,564.0 1639.7,598.2 1642.5,632.4 1642.5,683.6 1639.7,734.9 1639.7,769.1 1640.5,820.4 1635.6,888.7 1637.0,957.1 1636.2,1008.4 1636.2,1110.9 1635.6,1145.1 1640.7,1213.4 1637.0,1264.7 1635.6,1316.0 1635.2,1384.3 1635.6,1452.7 1635.6,1538.2 1635.6,1572.3 1634.2,1572.3"/><rect x="1632.9" y="244.6" width="24.8" height="23.6" fill="#a8d6e6"/><rect x="1632.9" y="278.8" width="17.9" height="23.6" fill="#a8d6e6"/><rect x="1632.9" y="313.0" width="15.1" height="23.6" fill="#a8d6e6"/><rect x="1632.9" y="449.7" width="12.3" height="23.6" fill="#a8d6e6"/><rect x="1632.9" y="483.9" width="15.1" height="23.6" fill="#a8d6e6"/><rect x="1632.9" y="552.2" width="13.2" height="23.6" fill="#a8d6e6"/><rect x="1632.9" y="586.4" width="6.8" height="23.6" fill="#a8d6e6"/><rect x="1632.9" y="620.6" width="9.6" height="23.6" fill="#a8d6e6"/><rect x="1632.9" y="671.9" width="9.6" height="23.6" fill="#a8d6e6"/><rect x="1632.9" y="723.1" width="6.8" height="23.6" fill="#a8d6e6"/><rect x="1632.9" y="757.3" width="6.8" height="23.6" fill="#a8d6e6"/><rect x="1632.9" y="808.6" width="7.6" height="23.6" fill="#a8d6e6"/><rect x="1632.9" y="876.9" width="2.7" height="23.6" fill="#a8d6e6"/><rect x="1632.9" y="945.3" width="4.1" height="23.6" fill="#a8d6e6"/><rect x="1632.9" y="996.6" width="3.3" height="23.6" fill="#a8d6e6"/><rect x="1632.9" y="1099.1" width="3.3" height="23.6" fill="#a8d6e6"/><rect x="1632.9" y="1133.3" width="2.7" height="23.6" fill="#a8d6e6"/><rect x="1632.9" y="1201.6" width="7.8" height="23.6" fill="#a8d6e6"/><rect x="1632.9" y="1252.9" width="4.1" height="23.6" fill="#a8d6e6"/><rect x="1632.9" y="1304.2" width="2.7" height="23.6" fill="#a8d6e6"/><rect x="1632.9" y="1372.5" width="2.3" height="23.6" fill="#a8d6e6"/><rect x="1632.9" y="1440.9" width="2.7" height="23.6" fill="#a8d6e6"/><rect x="1632.9" y="1526.4" width="2.7" height="23.6" fill="#a8d6e6"/><rect x="1632.9" y="1560.5" width="2.7" height="23.6" fill="#a8d6e6"/><line x1="1634.2" y1="256.4" x2="1634.2" y2="1572.3" stroke="#484848" stroke-width="2.2"/><rect x="1630.8" y="1624.4" width="27.7" height="23.9" fill="#000"/><text transform="translate(1632.6,218) rotate(-35) scale(1.047,1)" font-size="33.5" fill="#000" stroke="#000" stroke-width="0.6">Woesearchaeota</text></g>
<g><polygon fill="#bebebe" points="1696.8,256.4 1698.8,256.4 1704.5,290.6 1703.1,324.8 1703.1,461.5 1704.0,495.7 1703.1,564.0 1700.4,598.2 1701.2,632.4 1705.1,683.6 1704.0,734.9 1703.1,769.1 1703.1,820.4 1703.1,888.7 1704.5,957.1 1703.1,1008.4 1705.1,1110.9 1703.3,1145.1 1705.5,1213.4 1702.7,1264.7 1703.8,1316.0 1699.1,1384.3 1703.3,1452.7 1703.3,1538.2 1703.3,1572.3 1696.8,1572.3"/><rect x="1695.5" y="244.6" width="3.3" height="23.6" fill="#a8d6e6"/><rect x="1695.5" y="278.8" width="9.0" height="23.6" fill="#a8d6e6"/><rect x="1695.5" y="313.0" width="7.6" height="23.6" fill="#a8d6e6"/><rect x="1695.5" y="449.7" width="7.6" height="23.6" fill="#a8d6e6"/><rect x="1695.5" y="483.9" width="8.5" height="23.6" fill="#a8d6e6"/><rect x="1695.5" y="552.2" width="7.6" height="23.6" fill="#a8d6e6"/><rect x="1695.5" y="586.4" width="4.9" height="23.6" fill="#a8d6e6"/><rect x="1695.5" y="620.6" width="5.7" height="23.6" fill="#a8d6e6"/><rect x="1695.5" y="671.9" width="9.6" height="23.6" fill="#a8d6e6"/><rect x="1695.5" y="723.1" width="8.5" height="23.6" fill="#a8d6e6"/><rect x="1695.5" y="757.3" width="7.6" height="23.6" fill="#a8d6e6"/><rect x="1695.5" y="808.6" width="7.6" height="23.6" fill="#a8d6e6"/><rect x="1695.5" y="876.9" width="7.6" height="23.6" fill="#a8d6e6"/><rect x="1695.5" y="945.3" width="9.0" height="23.6" fill="#a8d6e6"/><rect x="1695.5" y="996.6" width="7.6" height="23.6" fill="#a8d6e6"/><rect x="1695.5" y="1099.1" width="9.6" height="23.6" fill="#a8d6e6"/><rect x="1695.5" y="1133.3" width="7.8" height="23.6" fill="#a8d6e6"/><rect x="1695.5" y="1201.6" width="10.0" height="23.6" fill="#a8d6e6"/><rect x="1695.5" y="1252.9" width="7.2" height="23.6" fill="#a8d6e6"/><rect x="1695.5" y="1304.2" width="8.3" height="23.6" fill="#a8d6e6"/><rect x="1695.5" y="1372.5" width="3.6" height="23.6" fill="#a8d6e6"/><rect x="1695.5" y="1440.9" width="7.8" height="23.6" fill="#a8d6e6"/><rect x="1695.5" y="1526.4" width="7.8" height="23.6" fill="#a8d6e6"/><rect x="1695.5" y="1560.5" width="7.8" height="23.6" fill="#a8d6e6"/><line x1="1696.8" y1="256.4" x2="1696.8" y2="1572.3" stroke="#484848" stroke-width="2.2"/><rect x="1693.9" y="1624.4" width="13.4" height="23.9" fill="#000"/><text transform="translate(1713.3,1652) rotate(-90)" text-anchor="end" font-size="32" fill="#000" stroke="#000" stroke-width="0.4">2220</text><text transform="translate(1695.2,218) rotate(-35) scale(1.047,1)" font-size="33.5" fill="#000" stroke="#000" stroke-width="0.6">Nanohaloarchaeota</text></g>
<g><polygon fill="#bebebe" points="1744.7,256.4 1753.0,256.4 1750.2,290.6 1749.4,324.8 1748.8,461.5 1749.4,495.7 1750.2,564.0 1753.0,598.2 1753.8,632.4 1753.0,683.6 1753.0,734.9 1752.2,769.1 1751.6,820.4 1751.0,888.7 1751.0,957.1 1753.0,1008.4 1751.0,1110.9 1751.2,1145.1 1752.6,1213.4 1751.7,1264.7 1751.2,1316.0 1747.0,1384.3 1753.4,1452.7 1751.7,1538.2 1751.2,1572.3 1744.7,1572.3"/><rect x="1743.4" y="244.6" width="9.6" height="23.6" fill="#a8d6e6"/><rect x="1743.4" y="278.8" width="6.8" height="23.6" fill="#a8d6e6"/><rect x="1743.4" y="313.0" width="6.0" height="23.6" fill="#a8d6e6"/><rect x="1743.4" y="449.7" width="5.4" height="23.6" fill="#a8d6e6"/><rect x="1743.4" y="483.9" width="6.0" height="23.6" fill="#a8d6e6"/><rect x="1743.4" y="552.2" width="6.8" height="23.6" fill="#a8d6e6"/><rect x="1743.4" y="586.4" width="9.6" height="23.6" fill="#a8d6e6"/><rect x="1743.4" y="620.6" width="10.4" height="23.6" fill="#a8d6e6"/><rect x="1743.4" y="671.9" width="9.6" height="23.6" fill="#a8d6e6"/><rect x="1743.4" y="723.1" width="9.6" height="23.6" fill="#a8d6e6"/><rect x="1743.4" y="757.3" width="8.8" height="23.6" fill="#a8d6e6"/><rect x="1743.4" y="808.6" width="8.2" height="23.6" fill="#a8d6e6"/><rect x="1743.4" y="876.9" width="7.6" height="23.6" fill="#a8d6e6"/><rect x="1743.4" y="945.3" width="7.6" height="23.6" fill="#a8d6e6"/><rect x="1743.4" y="996.6" width="9.6" height="23.6" fill="#a8d6e6"/><rect x="1743.4" y="1099.1" width="7.6" height="23.6" fill="#a8d6e6"/><rect x="1743.4" y="1133.3" width="7.8" height="23.6" fill="#a8d6e6"/><rect x="1743.4" y="1201.6" width="9.2" height="23.6" fill="#a8d6e6"/><rect x="1743.4" y="1252.9" width="8.3" height="23.6" fill="#a8d6e6"/><rect x="1743.4" y="1304.2" width="7.8" height="23.6" fill="#a8d6e6"/><rect x="1743.4" y="1372.5" width="3.6" height="23.6" fill="#a8d6e6"/><rect x="1743.4" y="1440.9" width="10.0" height="23.6" fill="#a8d6e6"/><rect x="1743.4" y="1526.4" width="8.3" height="23.6" fill="#a8d6e6"/><rect x="1743.4" y="1560.5" width="7.8" height="23.6" fill="#a8d6e6"/><line x1="1744.7" y1="256.4" x2="1744.7" y2="1572.3" stroke="#484848" stroke-width="2.2"/><rect x="1741.9" y="1624.4" width="12.4" height="23.9" fill="#000"/><text transform="translate(1761.6,1652) rotate(-90)" text-anchor="end" font-size="32" fill="#000" stroke="#000" stroke-width="0.4">2328</text><text transform="translate(1743.1,218) rotate(-35) scale(1.047,1)" font-size="33.5" fill="#000" stroke="#000" stroke-width="0.6">Anaerolineae</text></g>
<g><polygon fill="#bebebe" points="1792.8,256.4 1797.8,256.4 1799.7,290.6 1797.8,324.8 1796.9,461.5 1798.3,495.7 1798.8,564.0 1795.6,598.2 1797.8,632.4 1797.8,683.6 1798.3,734.9 1798.3,769.1 1798.8,820.4 1798.8,888.7 1798.8,957.1 1798.8,1008.4 1799.7,1110.9 1800.7,1145.1 1804.9,1213.4 1802.1,1264.7 1799.3,1316.0 1795.1,1384.3 1797.8,1452.7 1797.8,1538.2 1799.3,1572.3 1792.8,1572.3"/><rect x="1791.5" y="244.6" width="6.3" height="23.6" fill="#a8d6e6"/><rect x="1791.5" y="278.8" width="8.2" height="23.6" fill="#a8d6e6"/><rect x="1791.5" y="313.0" width="6.3" height="23.6" fill="#a8d6e6"/><rect x="1791.5" y="449.7" width="5.4" height="23.6" fill="#a8d6e6"/><rect x="1791.5" y="483.9" width="6.8" height="23.6" fill="#a8d6e6"/><rect x="1791.5" y="552.2" width="7.3" height="23.6" fill="#a8d6e6"/><rect x="1791.5" y="586.4" width="4.1" height="23.6" fill="#a8d6e6"/><rect x="1791.5" y="620.6" width="6.3" height="23.6" fill="#a8d6e6"/><rect x="1791.5" y="671.9" width="6.3" height="23.6" fill="#a8d6e6"/><rect x="1791.5" y="723.1" width="6.8" height="23.6" fill="#a8d6e6"/><rect x="1791.5" y="757.3" width="6.8" height="23.6" fill="#a8d6e6"/><rect x="1791.5" y="808.6" width="7.3" height="23.6" fill="#a8d6e6"/><rect x="1791.5" y="876.9" width="7.3" height="23.6" fill="#a8d6e6"/><rect x="1791.5" y="945.3" width="7.3" height="23.6" fill="#a8d6e6"/><rect x="1791.5" y="996.6" width="7.3" height="23.6" fill="#a8d6e6"/><rect x="1791.5" y="1099.1" width="8.2" height="23.6" fill="#a8d6e6"/><rect x="1791.5" y="1133.3" width="9.2" height="23.6" fill="#a8d6e6"/><rect x="1791.5" y="1201.6" width="13.4" height="23.6" fill="#a8d6e6"/><rect x="1791.5" y="1252.9" width="10.6" height="23.6" fill="#a8d6e6"/><rect x="1791.5" y="1304.2" width="7.8" height="23.6" fill="#a8d6e6"/><rect x="1791.5" y="1372.5" width="3.6" height="23.6" fill="#a8d6e6"/><rect x="1791.5" y="1440.9" width="6.3" height="23.6" fill="#a8d6e6"/><rect x="1791.5" y="1526.4" width="6.3" height="23.6" fill="#a8d6e6"/><rect x="1791.5" y="1560.5" width="7.8" height="23.6" fill="#a8d6e6"/><line x1="1792.8" y1="256.4" x2="1792.8" y2="1572.3" stroke="#484848" stroke-width="2.2"/><rect x="1789.9" y="1624.4" width="14.3" height="23.9" fill="#000"/><text transform="translate(1807.1,1652) rotate(-90)" text-anchor="end" font-size="32" fill="#000" stroke="#000" stroke-width="0.4">1500</text><text transform="translate(1791.2,218) rotate(-35) scale(1.047,1)" font-size="33.5" fill="#000" stroke="#000" stroke-width="0.6">Parcubacteria</text></g>
<g><polygon fill="#bebebe" points="1841.9,256.4 1852.9,256.4 1846.6,290.6 1845.8,324.8 1845.2,461.5 1845.2,495.7 1845.8,564.0 1846.6,598.2 1845.8,632.4 1845.8,683.6 1844.4,734.9 1844.4,769.1 1844.4,820.4 1844.4,888.7 1844.4,957.1 1844.4,1008.4 1844.4,1110.9 1843.9,1145.1 1843.9,1213.4 1843.9,1264.7 1843.9,1316.0 1843.9,1384.3 1843.9,1452.7 1844.7,1538.2 1849.8,1572.3 1841.9,1572.3"/><rect x="1840.6" y="244.6" width="12.3" height="23.6" fill="#a8d6e6"/><rect x="1840.6" y="278.8" width="6.0" height="23.6" fill="#a8d6e6"/><rect x="1840.6" y="313.0" width="5.2" height="23.6" fill="#a8d6e6"/><rect x="1840.6" y="449.7" width="4.6" height="23.6" fill="#a8d6e6"/><rect x="1840.6" y="483.9" width="4.6" height="23.6" fill="#a8d6e6"/><rect x="1840.6" y="552.2" width="5.2" height="23.6" fill="#a8d6e6"/><rect x="1840.6" y="586.4" width="6.0" height="23.6" fill="#a8d6e6"/><rect x="1840.6" y="620.6" width="5.2" height="23.6" fill="#a8d6e6"/><rect x="1840.6" y="671.9" width="5.2" height="23.6" fill="#a8d6e6"/><rect x="1840.6" y="723.1" width="3.8" height="23.6" fill="#a8d6e6"/><rect x="1840.6" y="757.3" width="3.8" height="23.6" fill="#a8d6e6"/><rect x="1840.6" y="808.6" width="3.8" height="23.6" fill="#a8d6e6"/><rect x="1840.6" y="876.9" width="3.8" height="23.6" fill="#a8d6e6"/><rect x="1840.6" y="945.3" width="3.8" height="23.6" fill="#a8d6e6"/><rect x="1840.6" y="996.6" width="3.8" height="23.6" fill="#a8d6e6"/><rect x="1840.6" y="1099.1" width="3.8" height="23.6" fill="#a8d6e6"/><rect x="1840.6" y="1133.3" width="3.3" height="23.6" fill="#a8d6e6"/><rect x="1840.6" y="1201.6" width="3.3" height="23.6" fill="#a8d6e6"/><rect x="1840.6" y="1252.9" width="3.3" height="23.6" fill="#a8d6e6"/><rect x="1840.6" y="1304.2" width="3.3" height="23.6" fill="#a8d6e6"/><rect x="1840.6" y="1372.5" width="3.3" height="23.6" fill="#a8d6e6"/><rect x="1840.6" y="1440.9" width="3.3" height="23.6" fill="#a8d6e6"/><rect x="1840.6" y="1526.4" width="4.1" height="23.6" fill="#a8d6e6"/><rect x="1840.6" y="1560.5" width="9.2" height="23.6" fill="#a8d6e6"/><line x1="1841.9" y1="256.4" x2="1841.9" y2="1572.3" stroke="#484848" stroke-width="2.2"/><rect x="1840.0" y="1624.4" width="13.5" height="23.9" fill="#000"/><text transform="translate(1857.6,1652) rotate(-90)" text-anchor="end" font-size="32" fill="#000" stroke="#000" stroke-width="0.4">1935</text><text transform="translate(1840.3,218) rotate(-35) scale(1.047,1)" font-size="33.5" fill="#000" stroke="#000" stroke-width="0.6">Bacteroidia</text></g>
<g><polygon fill="#bebebe" points="1890.9,256.4 1896.4,256.4 1894.5,290.6 1893.7,324.8 1893.4,461.5 1893.4,495.7 1893.4,564.0 1893.4,598.2 1893.4,632.4 1893.4,683.6 1893.4,734.9 1893.4,769.1 1893.4,820.4 1892.9,888.7 1892.9,957.1 1892.9,1008.4 1892.9,1110.9 1891.9,1145.1 1891.9,1213.4 1891.9,1264.7 1891.9,1316.0 1891.9,1384.3 1891.9,1452.7 1891.9,1538.2 1891.9,1572.3 1890.9,1572.3"/><rect x="1889.6" y="244.6" width="6.8" height="23.6" fill="#a8d6e6"/><rect x="1889.6" y="278.8" width="4.9" height="23.6" fill="#a8d6e6"/><rect x="1889.6" y="313.0" width="4.1" height="23.6" fill="#a8d6e6"/><rect x="1889.6" y="449.7" width="3.8" height="23.6" fill="#a8d6e6"/><rect x="1889.6" y="483.9" width="3.8" height="23.6" fill="#a8d6e6"/><rect x="1889.6" y="552.2" width="3.8" height="23.6" fill="#a8d6e6"/><rect x="1889.6" y="586.4" width="3.8" height="23.6" fill="#a8d6e6"/><rect x="1889.6" y="620.6" width="3.8" height="23.6" fill="#a8d6e6"/><rect x="1889.6" y="671.9" width="3.8" height="23.6" fill="#a8d6e6"/><rect x="1889.6" y="723.1" width="3.8" height="23.6" fill="#a8d6e6"/><rect x="1889.6" y="757.3" width="3.8" height="23.6" fill="#a8d6e6"/><rect x="1889.6" y="808.6" width="3.8" height="23.6" fill="#a8d6e6"/><rect x="1889.6" y="876.9" width="3.3" height="23.6" fill="#a8d6e6"/><rect x="1889.6" y="945.3" width="3.3" height="23.6" fill="#a8d6e6"/><rect x="1889.6" y="996.6" width="3.3" height="23.6" fill="#a8d6e6"/><rect x="1889.6" y="1099.1" width="3.3" height="23.6" fill="#a8d6e6"/><rect x="1889.6" y="1133.3" width="2.3" height="23.6" fill="#a8d6e6"/><rect x="1889.6" y="1201.6" width="2.3" height="23.6" fill="#a8d6e6"/><rect x="1889.6" y="1252.9" width="2.3" height="23.6" fill="#a8d6e6"/><rect x="1889.6" y="1304.2" width="2.3" height="23.6" fill="#a8d6e6"/><rect x="1889.6" y="1372.5" width="2.3" height="23.6" fill="#a8d6e6"/><rect x="1889.6" y="1440.9" width="2.3" height="23.6" fill="#a8d6e6"/><rect x="1889.6" y="1526.4" width="2.3" height="23.6" fill="#a8d6e6"/><rect x="1889.6" y="1560.5" width="2.3" height="23.6" fill="#a8d6e6"/><line x1="1890.9" y1="256.4" x2="1890.9" y2="1572.3" stroke="#484848" stroke-width="2.2"/><rect x="1888.0" y="1624.4" width="10.0" height="23.9" fill="#000"/><text transform="translate(1889.3,218) rotate(-35) scale(1.047,1)" font-size="33.5" fill="#000" stroke="#000" stroke-width="0.6">Spirochaetia</text></g>
<g><polygon fill="#bebebe" points="1936.4,256.4 1944.4,256.4 1942.4,290.6 1941.9,324.8 1940.3,461.5 1940.3,495.7 1941.1,564.0 1943.4,598.2 1941.9,632.4 1940.3,683.6 1939.4,734.9 1939.4,769.1 1939.4,820.4 1939.4,888.7 1939.4,957.1 1939.4,1008.4 1939.4,1110.9 1936.9,1145.1 1936.9,1213.4 1936.9,1264.7 1936.9,1316.0 1936.9,1384.3 1936.9,1452.7 1936.9,1538.2 1936.9,1572.3 1936.4,1572.3"/><rect x="1935.1" y="244.6" width="9.3" height="23.6" fill="#a8d6e6"/><rect x="1935.1" y="278.8" width="7.3" height="23.6" fill="#a8d6e6"/><rect x="1935.1" y="313.0" width="6.8" height="23.6" fill="#a8d6e6"/><rect x="1935.1" y="449.7" width="5.2" height="23.6" fill="#a8d6e6"/><rect x="1935.1" y="483.9" width="5.2" height="23.6" fill="#a8d6e6"/><rect x="1935.1" y="552.2" width="6.0" height="23.6" fill="#a8d6e6"/><rect x="1935.1" y="586.4" width="8.3" height="23.6" fill="#a8d6e6"/><rect x="1935.1" y="620.6" width="6.8" height="23.6" fill="#a8d6e6"/><rect x="1935.1" y="671.9" width="5.2" height="23.6" fill="#a8d6e6"/><rect x="1935.1" y="723.1" width="4.3" height="23.6" fill="#a8d6e6"/><rect x="1935.1" y="757.3" width="4.3" height="23.6" fill="#a8d6e6"/><rect x="1935.1" y="808.6" width="4.3" height="23.6" fill="#a8d6e6"/><rect x="1935.1" y="876.9" width="4.3" height="23.6" fill="#a8d6e6"/><rect x="1935.1" y="945.3" width="4.3" height="23.6" fill="#a8d6e6"/><rect x="1935.1" y="996.6" width="4.3" height="23.6" fill="#a8d6e6"/><rect x="1935.1" y="1099.1" width="4.3" height="23.6" fill="#a8d6e6"/><line x1="1936.4" y1="256.4" x2="1936.4" y2="1572.3" stroke="#484848" stroke-width="2.2"/><rect x="1933.7" y="1624.4" width="10.5" height="23.9" fill="#000"/><text transform="translate(1954.2,1652) rotate(-90)" text-anchor="end" font-size="32" fill="#000" stroke="#000" stroke-width="0.4">2625</text><text transform="translate(1934.8,218) rotate(-35) scale(1.047,1)" font-size="33.5" fill="#000" stroke="#000" stroke-width="0.6">Lokiarchaeota</text></g>
<g><polygon fill="#bebebe" points="1982.6,256.4 1995.0,256.4 1984.1,290.6 1984.1,324.8 1984.1,461.5 1984.1,495.7 1984.1,564.0 1984.1,598.2 1984.1,632.4 1984.1,683.6 1984.1,734.9 1984.1,769.1 1984.1,820.4 1984.1,888.7 1984.1,957.1 1986.2,1008.4 1983.6,1110.9 1982.6,1145.1 1982.6,1213.4 1982.6,1264.7 1982.6,1316.0 1982.6,1384.3 1998.6,1452.7 1986.0,1538.2 2005.7,1572.3 1982.6,1572.3"/><rect x="1981.3" y="244.6" width="13.7" height="23.6" fill="#a8d6e6"/><rect x="1981.3" y="278.8" width="2.8" height="23.6" fill="#a8d6e6"/><rect x="1981.3" y="313.0" width="2.8" height="23.6" fill="#a8d6e6"/><rect x="1981.3" y="449.7" width="2.8" height="23.6" fill="#a8d6e6"/><rect x="1981.3" y="483.9" width="2.8" height="23.6" fill="#a8d6e6"/><rect x="1981.3" y="552.2" width="2.8" height="23.6" fill="#a8d6e6"/><rect x="1981.3" y="586.4" width="2.8" height="23.6" fill="#a8d6e6"/><rect x="1981.3" y="620.6" width="2.8" height="23.6" fill="#a8d6e6"/><rect x="1981.3" y="671.9" width="2.8" height="23.6" fill="#a8d6e6"/><rect x="1981.3" y="723.1" width="2.8" height="23.6" fill="#a8d6e6"/><rect x="1981.3" y="757.3" width="2.8" height="23.6" fill="#a8d6e6"/><rect x="1981.3" y="808.6" width="2.8" height="23.6" fill="#a8d6e6"/><rect x="1981.3" y="876.9" width="2.8" height="23.6" fill="#a8d6e6"/><rect x="1981.3" y="945.3" width="2.8" height="23.6" fill="#a8d6e6"/><rect x="1981.3" y="996.6" width="4.9" height="23.6" fill="#a8d6e6"/><rect x="1981.3" y="1099.1" width="2.3" height="23.6" fill="#a8d6e6"/><rect x="1981.3" y="1440.9" width="17.3" height="23.6" fill="#a8d6e6"/><rect x="1981.3" y="1526.4" width="4.7" height="23.6" fill="#a8d6e6"/><rect x="1981.3" y="1560.5" width="24.4" height="23.6" fill="#a8d6e6"/><line x1="1982.6" y1="256.4" x2="1982.6" y2="1572.3" stroke="#484848" stroke-width="2.2"/><rect x="1979.8" y="1624.4" width="27.0" height="23.9" fill="#000"/><text transform="translate(1981.0,218) rotate(-35) scale(1.047,1)" font-size="33.5" fill="#000" stroke="#000" stroke-width="0.6">Alphaproteobacteria</text></g>
<g><polygon fill="#bebebe" points="2044.3,256.4 2044.8,256.4 2044.8,290.6 2044.8,324.8 2044.8,461.5 2044.8,495.7 2044.8,564.0 2044.8,598.2 2044.8,632.4 2044.8,683.6 2044.8,734.9 2044.8,769.1 2044.8,820.4 2044.8,888.7 2044.8,957.1 2044.8,1008.4 2044.8,1110.9 2044.8,1145.1 2044.8,1213.4 2044.8,1264.7 2044.8,1316.0 2044.8,1384.3 2044.8,1452.7 2047.8,1538.2 2047.8,1572.3 2044.3,1572.3"/><rect x="2043.0" y="1526.4" width="4.8" height="23.6" fill="#a8d6e6"/><rect x="2043.0" y="1560.5" width="4.8" height="23.6" fill="#a8d6e6"/><line x1="2044.3" y1="256.4" x2="2044.3" y2="1572.3" stroke="#7a7a7a" stroke-width="2.2"/><rect x="2040.9" y="1624.4" width="10.1" height="23.9" fill="#000"/><text transform="translate(2042.7,218) rotate(-35) scale(1.047,1)" font-size="33.5" fill="#000" stroke="#000" stroke-width="0.6">Hadesarchaeaeota</text></g>
<g><polygon fill="#bebebe" points="2089.0,256.4 2089.5,256.4 2089.5,290.6 2089.5,324.8 2089.5,461.5 2089.5,495.7 2089.5,564.0 2089.5,598.2 2089.5,632.4 2089.5,683.6 2089.5,734.9 2089.5,769.1 2089.5,820.4 2089.5,888.7 2089.5,957.1 2089.5,1008.4 2089.5,1110.9 2089.5,1145.1 2094.0,1213.4 2094.0,1264.7 2089.5,1316.0 2089.5,1384.3 2089.5,1452.7 2089.5,1538.2 2094.0,1572.3 2089.0,1572.3"/><rect x="2087.7" y="1201.6" width="6.3" height="23.6" fill="#a8d6e6"/><rect x="2087.7" y="1252.9" width="6.3" height="23.6" fill="#a8d6e6"/><rect x="2087.7" y="1560.5" width="6.3" height="23.6" fill="#a8d6e6"/><line x1="2089.0" y1="256.4" x2="2089.0" y2="1572.3" stroke="#7a7a7a" stroke-width="2.2"/><rect x="2085.9" y="1624.4" width="10.1" height="23.9" fill="#000"/><text transform="translate(2087.4,218) rotate(-35) scale(1.047,1)" font-size="33.5" fill="#000" stroke="#000" stroke-width="0.6">Aerophobetes</text></g>
<g><polygon fill="#bebebe" points="2133.8,256.4 2134.3,256.4 2134.3,290.6 2134.3,324.8 2134.3,461.5 2134.3,495.7 2134.3,564.0 2134.3,598.2 2134.3,632.4 2134.3,683.6 2134.3,734.9 2134.3,769.1 2134.3,820.4 2134.3,888.7 2134.3,957.1 2134.3,1008.4 2134.3,1110.9 2134.3,1145.1 2134.3,1213.4 2134.3,1264.7 2134.3,1316.0 2134.3,1384.3 2134.3,1452.7 2134.3,1538.2 2134.3,1572.3 2133.8,1572.3"/><line x1="2133.8" y1="256.4" x2="2133.8" y2="1572.3" stroke="#7a7a7a" stroke-width="2.2"/><rect x="2130.5" y="1624.4" width="6.7" height="23.9" fill="#000"/><text transform="translate(2132.2,218) rotate(-35) scale(1.047,1)" font-size="33.5" fill="#000" stroke="#000" stroke-width="0.6">Crenarchaeota</text></g>
<g><polygon fill="#bebebe" points="2174.6,256.4 2175.1,256.4 2175.1,290.6 2175.1,324.8 2175.1,461.5 2175.1,495.7 2175.1,564.0 2175.1,598.2 2175.1,632.4 2175.1,683.6 2175.1,734.9 2175.1,769.1 2175.1,820.4 2175.1,888.7 2175.1,957.1 2175.1,1008.4 2175.1,1110.9 2175.1,1145.1 2175.1,1213.4 2175.1,1264.7 2175.1,1316.0 2175.1,1384.3 2175.1,1452.7 2175.1,1538.2 2175.1,1572.3 2174.6,1572.3"/><line x1="2174.6" y1="256.4" x2="2174.6" y2="1572.3" stroke="#7a7a7a" stroke-width="2.2"/><rect x="2171.7" y="1624.4" width="7.1" height="23.9" fill="#000"/><text transform="translate(2173.0,218) rotate(-35) scale(1.047,1)" font-size="33.5" fill="#000" stroke="#000" stroke-width="0.6">Zixibacteria</text></g>
<g><rect x="2213.2" y="1624.4" width="3.8" height="23.9" fill="#000"/><text transform="translate(2214.0,218) rotate(-35) scale(1.047,1)" font-size="33.5" fill="#000" stroke="#000" stroke-width="0.6">Other</text></g>
<g stroke="#222222" stroke-width="2.8" fill="none">
<line x1="165.3" y1="255.0" x2="165.3" y2="1573.7"/>
<line x1="141.1" y1="256.4" x2="165.3" y2="256.4"/>
<line x1="141.1" y1="290.6" x2="165.3" y2="290.6"/>
<line x1="141.1" y1="324.8" x2="165.3" y2="324.8"/>
<line x1="141.1" y1="461.5" x2="165.3" y2="461.5"/>
<line x1="141.1" y1="495.7" x2="165.3" y2="495.7"/>
<line x1="141.1" y1="564.0" x2="165.3" y2="564.0"/>
<line x1="141.1" y1="598.2" x2="165.3" y2="598.2"/>
<line x1="141.1" y1="632.4" x2="165.3" y2="632.4"/>
<line x1="141.1" y1="683.6" x2="165.3" y2="683.6"/>
<line x1="141.1" y1="734.9" x2="165.3" y2="734.9"/>
<line x1="141.1" y1="769.1" x2="165.3" y2="769.1"/>
<line x1="141.1" y1="820.4" x2="165.3" y2="820.4"/>
<line x1="141.1" y1="888.7" x2="165.3" y2="888.7"/>
<line x1="141.1" y1="957.1" x2="165.3" y2="957.1"/>
<line x1="141.1" y1="1008.4" x2="165.3" y2="1008.4"/>
<line x1="141.1" y1="1110.9" x2="165.3" y2="1110.9"/>
<line x1="141.1" y1="1145.1" x2="165.3" y2="1145.1"/>
<line x1="141.1" y1="1213.4" x2="165.3" y2="1213.4"/>
<line x1="141.1" y1="1264.7" x2="165.3" y2="1264.7"/>
<line x1="141.1" y1="1316.0" x2="165.3" y2="1316.0"/>
<line x1="141.1" y1="1384.3" x2="165.3" y2="1384.3"/>
<line x1="141.1" y1="1452.7" x2="165.3" y2="1452.7"/>
<line x1="141.1" y1="1538.2" x2="165.3" y2="1538.2"/>
<line x1="141.1" y1="1572.3" x2="165.3" y2="1572.3"/>
</g>
<g font-size="32" fill="#000" stroke="#000" stroke-width="0.4" text-anchor="end">
<text x="119.5" y="267.4">2</text>
<text x="119.5" y="301.6">4</text>
<text x="119.5" y="335.8">6</text>
<text x="119.5" y="472.5">14</text>
<text x="119.5" y="506.7">16</text>
<text x="119.5" y="575.0">20</text>
<text x="119.5" y="609.2">22</text>
<text x="119.5" y="643.4">24</text>
<text x="119.5" y="694.6">27</text>
<text x="119.5" y="745.9">30</text>
<text x="119.5" y="780.1">32</text>
<text x="119.5" y="831.4">35</text>
<text x="119.5" y="899.7">39</text>
<text x="119.5" y="968.1">43</text>
<text x="119.5" y="1019.4">46</text>
<text x="119.5" y="1121.9">52</text>
<text x="119.5" y="1156.1">54</text>
<text x="119.5" y="1224.4">58</text>
<text x="119.5" y="1275.7">61</text>
<text x="119.5" y="1327.0">64</text>
<text x="119.5" y="1395.3">68</text>
<text x="119.5" y="1463.7">72</text>
<text x="119.5" y="1549.2">77</text>
<text x="119.5" y="1583.3">79</text>
</g>
<text transform="translate(39.3,927.2) rotate(-90)" text-anchor="middle" font-size="48.6" fill="#000" stroke="#000" stroke-width="0.4">Depth (cm)</text>
<rect x="0" y="1020" width="1.6" height="25" fill="#777"/>
<text x="1300" y="1806.3" text-anchor="middle" font-size="48" fill="#000" stroke="#000" stroke-width="0.4">Number of sequences</text>
<line x1="165.9" y1="794.3" x2="2253.4" y2="794.3" stroke="#333" stroke-width="3" stroke-dasharray="13.9 14.68"/>
<line x1="165.9" y1="983.7" x2="2253.4" y2="983.7" stroke="#333" stroke-width="3" stroke-dasharray="13.9 14.68"/>
<g font-size="48" fill="#000" stroke="#000" stroke-width="0.4" text-anchor="end">
<text x="718" y="655.9" font-weight="bold">Group 1</text>
<text x="718" y="714.5">present–545</text>
<text x="718" y="771.1">Cal yrs BP</text>
<text x="718" y="854.4" font-weight="bold">Group 2</text>
<text x="718" y="914.6">545–930</text>
<text x="718" y="971.2">Cal yrs BP</text>
<text x="718" y="1455.0" font-weight="bold">Group 3</text>
<text x="718" y="1514.2">930–1908</text>
<text x="718" y="1573.4">Cal yrs BP</text>
</g>
<path d="M2253.4,290.6H2317.6V324.8H2253.4M2253.4,495.7H2261.8V564.0H2253.4M2253.4,461.5H2268.7V529.8H2261.8M2317.6,307.7H2322.5V495.7H2268.7M2253.4,256.4H2341.0V401.7H2322.5M2253.4,632.4H2304.6V683.6H2253.4M2253.4,734.9H2275.6V769.1H2253.4M2304.6,658.0H2310.7V752.0H2275.6M2253.4,598.2H2379.6V705.0H2310.7M2341.0,329.0H2394.3V651.6H2379.6M2253.4,888.7H2265.4V957.1H2253.4M2253.4,820.4H2281.1V922.9H2265.4M2394.3,490.3H2442.6V871.6H2281.1M2253.4,1008.4H2287.2V1110.9H2253.4M2253.4,1145.1H2350.6V1213.4H2253.4M2287.2,1059.6H2360.0V1179.3H2350.6M2253.4,1316.0H2292.2V1384.3H2253.4M2253.4,1264.7H2331.4V1350.2H2292.2M2360.0,1119.4H2369.5V1307.4H2331.4M2253.4,1538.2H2271.6V1572.3H2253.4M2253.4,1452.7H2298.4V1555.2H2271.6M2369.5,1213.4H2418.3V1504.0H2298.4M2442.6,681.0H2495.0V1358.7H2418.3" fill="none" stroke="#222222" stroke-width="2.7" stroke-linejoin="miter"/>
<g stroke="#222222" stroke-width="2.8" fill="none">
<line x1="2258.3" y1="1624.8" x2="2491.4" y2="1624.8"/>
<line x1="2259.7" y1="1624.8" x2="2259.7" y2="1648"/>
<line x1="2298.1" y1="1624.8" x2="2298.1" y2="1648"/>
<line x1="2336.5" y1="1624.8" x2="2336.5" y2="1648"/>
<line x1="2374.9" y1="1624.8" x2="2374.9" y2="1648"/>
<line x1="2413.3" y1="1624.8" x2="2413.3" y2="1648"/>
<line x1="2451.7" y1="1624.8" x2="2451.7" y2="1648"/>
<line x1="2490.1" y1="1624.8" x2="2490.1" y2="1648"/>
</g>
<text transform="translate(2271.1,1648.8) rotate(-90)" text-anchor="end" font-size="32" fill="#000" stroke="#000" stroke-width="0.4">0.0</text>
<text transform="translate(2309.5,1648.8) rotate(-90)" text-anchor="end" font-size="32" fill="#000" stroke="#000" stroke-width="0.4">0.5</text>
<text transform="translate(2347.9,1648.8) rotate(-90)" text-anchor="end" font-size="32" fill="#000" stroke="#000" stroke-width="0.4">1.0</text>
<text transform="translate(2386.3,1648.8) rotate(-90)" text-anchor="end" font-size="32" fill="#000" stroke="#000" stroke-width="0.4">1.5</text>
<text transform="translate(2424.7,1648.8) rotate(-90)" text-anchor="end" font-size="32" fill="#000" stroke="#000" stroke-width="0.4">2.0</text>
<text transform="translate(2463.1,1648.8) rotate(-90)" text-anchor="end" font-size="32" fill="#000" stroke="#000" stroke-width="0.4">2.5</text>
<text transform="translate(2501.5,1648.8) rotate(-90)" text-anchor="end" font-size="32" fill="#000" stroke="#000" stroke-width="0.4">3.0</text>
</g>
</svg>
</body></html>
